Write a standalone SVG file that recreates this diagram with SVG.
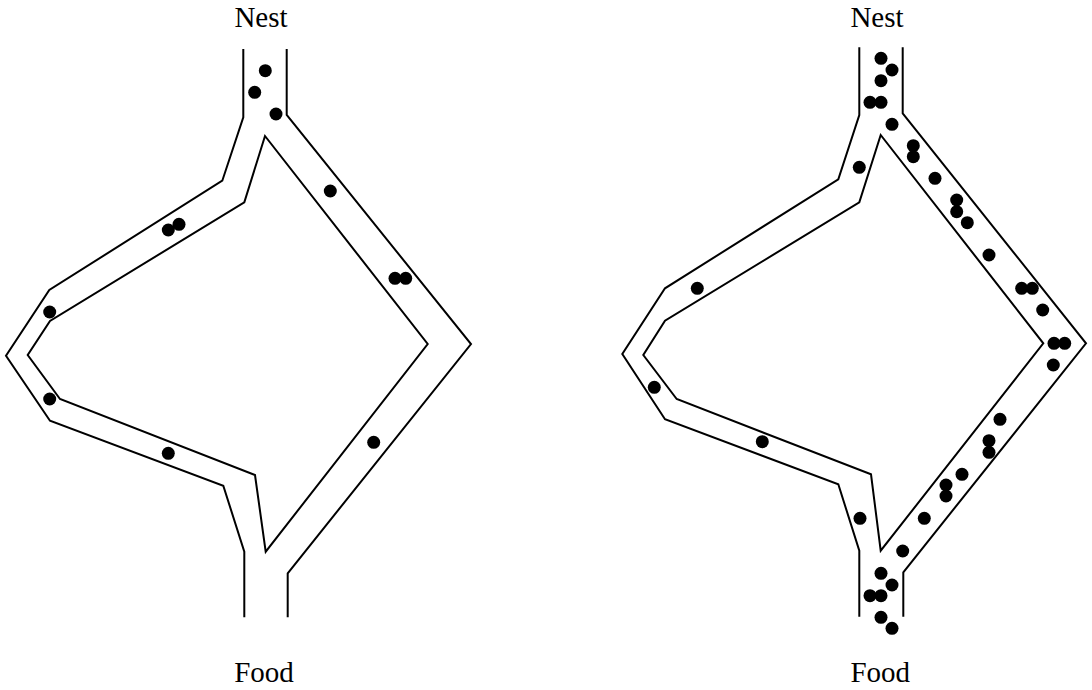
<svg xmlns="http://www.w3.org/2000/svg" width="1092" height="690" viewBox="0 0 1092 690">
<style>
.trail{fill:none;stroke:#000;stroke-width:2;stroke-linejoin:miter}
.ant{fill:#000}
.lbl{font-family:"Liberation Serif","Times New Roman",serif;font-size:29px;fill:#000;text-anchor:middle}
</style>
<rect width="1092" height="690" fill="#fff"/>
<g id="left-network">
<g id="left-trails">
<polyline class="trail" points="243.3,49 243.3,117.3 222.3,180.7 49.3,290 6,355.7 50,420.7 223.3,485.7 244.3,551.7 244.3,617.3"/>
<polyline class="trail" points="286.7,49 286.7,115 471,344 287.7,573.3 287.7,617.3"/>
<polygon class="trail" points="265,136 244.3,202.3 50,321 27.7,355 60,399 255,475 265.7,551.7 427.7,344"/>
</g>
<g id="left-ants" class="ant">
<circle cx="265.3" cy="70.7" r="6.5"/>
<circle cx="254.7" cy="92.3" r="6.5"/>
<circle cx="276" cy="114" r="6.5"/>
<circle cx="330.3" cy="191" r="6.5"/>
<circle cx="168.3" cy="230" r="6.5"/>
<circle cx="179" cy="224.3" r="6.5"/>
<circle cx="395" cy="278.3" r="6.5"/>
<circle cx="405.7" cy="278.3" r="6.5"/>
<circle cx="49.7" cy="312" r="6.5"/>
<circle cx="49.7" cy="399" r="6.5"/>
<circle cx="168.3" cy="453.3" r="6.5"/>
<circle cx="373.7" cy="442.3" r="6.5"/>
</g>
<text id="left-nest" class="lbl" x="261" y="26.7">Nest</text>
<text id="left-food" class="lbl" x="264" y="682.3">Food</text>
</g>
<g id="right-network">
<g id="right-trails">
<polyline class="trail" points="859.3,47.3 859.3,115 838.3,179.3 665,288.3 622.3,354 665,419.3 838.3,484.3 859.3,550.7 859.3,616.7"/>
<polyline class="trail" points="902.7,47.3 902.7,113.3 1086,343.3 903.3,572.3 903.3,616.7"/>
<polygon class="trail" points="880.7,135 859.3,202.3 665,320.7 643.3,355 676.7,399 871,474.3 880.7,550.7 1043.3,343.3"/>
</g>
<g id="right-ants" class="ant">
<circle cx="881" cy="58.3" r="6.5"/>
<circle cx="892" cy="70" r="6.5"/>
<circle cx="881" cy="80.7" r="6.5"/>
<circle cx="870" cy="102.3" r="6.5"/>
<circle cx="881" cy="102.3" r="6.5"/>
<circle cx="892" cy="124.3" r="6.5"/>
<circle cx="859.3" cy="167.3" r="6.5"/>
<circle cx="913.3" cy="145.7" r="6.5"/>
<circle cx="913.3" cy="156.7" r="6.5"/>
<circle cx="935" cy="178.3" r="6.5"/>
<circle cx="956.7" cy="200" r="6.5"/>
<circle cx="956.7" cy="211.7" r="6.5"/>
<circle cx="967.3" cy="222.7" r="6.5"/>
<circle cx="989" cy="255" r="6.5"/>
<circle cx="1021.7" cy="288.3" r="6.5"/>
<circle cx="1032.3" cy="288.3" r="6.5"/>
<circle cx="1042.7" cy="310" r="6.5"/>
<circle cx="1054" cy="343.3" r="6.5"/>
<circle cx="1064.7" cy="343.3" r="6.5"/>
<circle cx="1053.3" cy="365" r="6.5"/>
<circle cx="697.3" cy="288.3" r="6.5"/>
<circle cx="654.3" cy="387.3" r="6.5"/>
<circle cx="762.3" cy="441.7" r="6.5"/>
<circle cx="1000" cy="419.3" r="6.5"/>
<circle cx="989" cy="440.7" r="6.5"/>
<circle cx="989" cy="452.3" r="6.5"/>
<circle cx="962" cy="474.3" r="6.5"/>
<circle cx="946" cy="485" r="6.5"/>
<circle cx="946" cy="496" r="6.5"/>
<circle cx="924.3" cy="518.3" r="6.5"/>
<circle cx="860" cy="518.3" r="6.5"/>
<circle cx="902.7" cy="551" r="6.5"/>
<circle cx="881" cy="573.3" r="6.5"/>
<circle cx="892" cy="585" r="6.5"/>
<circle cx="870" cy="595.7" r="6.5"/>
<circle cx="881" cy="595.7" r="6.5"/>
<circle cx="881" cy="617.3" r="6.5"/>
<circle cx="892" cy="628.3" r="6.5"/>
</g>
<text id="right-nest" class="lbl" x="877" y="26.7">Nest</text>
<text id="right-food" class="lbl" x="880.3" y="682.3">Food</text>
</g>
</svg>
